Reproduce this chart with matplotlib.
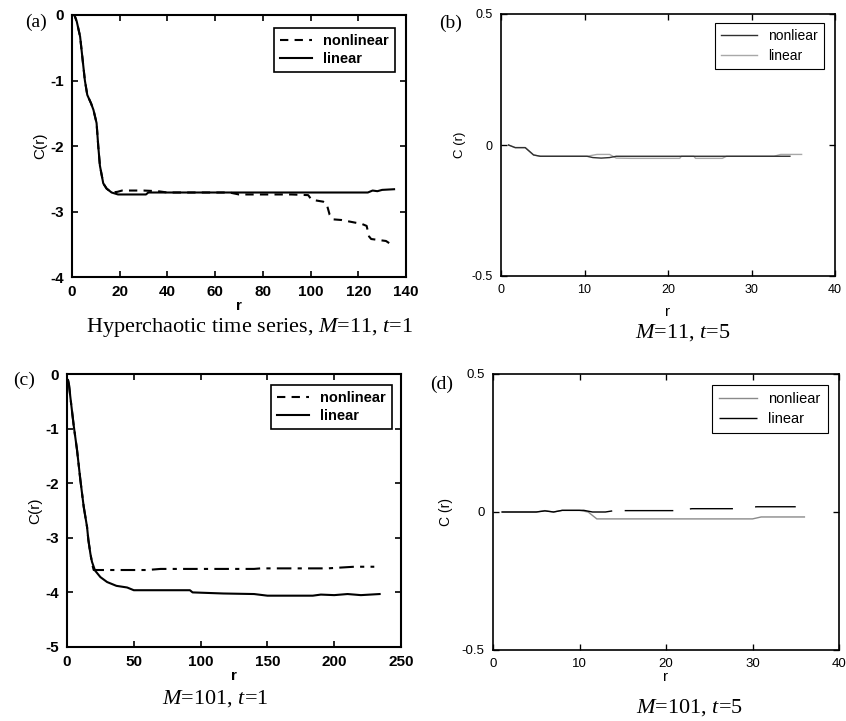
import matplotlib
matplotlib.use("Agg")
import matplotlib.pyplot as plt
from matplotlib import font_manager

# data
# (a) hyperchaotic, M=11, t=1
r_a_lin = [0, 1, 2, 3.4, 5.4, 6.4, 8, 9, 10.3, 11, 11.7, 13.1, 14.5, 16.6, 19.3, 31, 32, 124, 126, 128, 130, 135]
c_a_lin = [0, 0, -0.1, -0.33, -1.0, -1.22, -1.35, -1.45, -1.65, -2.0, -2.3, -2.57, -2.65, -2.71, -2.74, -2.74, -2.71, -2.71, -2.68, -2.69, -2.67, -2.66]
r_a_non = [0, 1, 2, 3.4, 5.4, 6.4, 8, 9, 10.3, 11, 11.7, 13.1, 14.5, 16.6, 19, 21, 30, 36, 40, 66, 70, 92, 99,
           100.4, 105.3, 106.7, 108, 109.5, 113, 121.5, 123.5, 124.5, 125.4, 131.6, 134.5, 135]
c_a_non = [0, 0, -0.1, -0.33, -1.0, -1.22, -1.35, -1.45, -1.65, -2.0, -2.3, -2.57, -2.65, -2.71, -2.7, -2.68, -2.68, -2.69, -2.71, -2.71, -2.74, -2.74, -2.75,
           -2.82, -2.85, -2.88, -3.05, -3.12, -3.13, -3.19, -3.22, -3.38, -3.42, -3.45, -3.52, -3.53]

# (b) M=11, t=5
r_b_non = [0.9, 1.7, 2.9, 3.9, 4.7, 10.3, 11, 12, 13, 13.8, 34.6]
c_b_non = [0, -0.01, -0.01, -0.038, -0.043, -0.043, -0.048, -0.05, -0.048, -0.043, -0.043]
r_b_lin = [0.9, 1.7, 2.9, 3.9, 4.7, 10.3, 11.5, 13, 13.8, 15.6, 21.4, 21.6, 23.1, 23.3, 26.5, 27, 32.7, 33.5, 36]
c_b_lin = [0, -0.01, -0.01, -0.038, -0.043, -0.043, -0.036, -0.036, -0.05, -0.051, -0.051, -0.043, -0.043, -0.051, -0.051, -0.043, -0.043, -0.036, -0.036]

# (c) M=101, t=1
r_c_lin = [0.75, 1.5, 2.5, 5, 7.5, 10, 12.5, 15, 16, 17.5, 18.7, 21, 25, 30, 37, 45, 50, 92, 94, 117, 140, 150, 184, 190, 200, 210, 220, 234]
c_c_lin = [-0.11, -0.2, -0.42, -0.94, -1.39, -1.94, -2.43, -2.8, -3.04, -3.29, -3.44, -3.6, -3.72, -3.81, -3.88, -3.91, -3.96, -3.96, -4.0, -4.02, -4.03, -4.06, -4.06, -4.04, -4.05, -4.03, -4.05, -4.03]
r_c_non = [0.75, 1.5, 2.5, 5, 7.5, 10, 12.5, 15, 16, 17.5, 19, 20, 60, 70, 140, 145, 195, 215, 230]
c_c_non = [-0.11, -0.2, -0.42, -0.94, -1.39, -1.94, -2.43, -2.8, -3.04, -3.29, -3.5, -3.59, -3.59, -3.57, -3.57, -3.56, -3.56, -3.53, -3.53]

# (d) M=101, t=5
r_d_non = [1, 5, 6, 7, 8, 10, 11, 12, 30, 31, 36]
c_d_non = [0, 0, 0.005, 0, 0.006, 0.006, 0.0, -0.025, -0.025, -0.018, -0.018]
r_d_lin = [1, 5, 6, 7, 8, 10.5, 11.5, 13, 14, 15.5, 21, 23, 28, 30.5, 35]
c_d_lin = [0, 0, 0.004, 0, 0.006, 0.006, 0.0, 0.0, 0.005, 0.005, 0.005, 0.012, 0.012, 0.019, 0.019]

names = {f.name for f in font_manager.fontManager.ttflist}
narrow = ["Liberation Sans Narrow", "Liberation Sans"] if "Liberation Sans Narrow" in names else ["Liberation Sans"]

plt.rcParams['font.family'] = ['Liberation Sans', 'DejaVu Sans']
plt.rcParams['axes.unicode_minus'] = False
plt.rcParams['mathtext.fontset'] = 'custom'
plt.rcParams['mathtext.rm'] = 'Liberation Serif'
plt.rcParams['mathtext.it'] = 'Liberation Serif:italic'

W, H = 846, 721
fig = plt.figure(figsize=(W / 100, H / 100), dpi=100)


def box(l, t, r, b):
    return [l / W, 1 - b / H, (r - l) / W, (b - t) / H]


def ftext(x, y, s, **kw):
    fig.text(x / W, 1 - y / H, s, **kw)


def style(ax, fam, weight, size, lw):
    ax.tick_params(direction='in', top=True, right=True, length=4, width=lw * 0.8, labelsize=size, pad=6)
    for lab in ax.get_xticklabels() + ax.get_yticklabels():
        lab.set_family(fam)
        lab.set_weight(weight)
    for s in ax.spines.values():
        s.set_linewidth(lw)


# (a)
ax = fig.add_axes(box(72, 15, 406, 277))
ax.plot(r_a_non, c_a_non, color='black', lw=1.5, ls=(0, (4, 3)), label='nonlinear')
ax.plot(r_a_lin, c_a_lin, color='black', lw=1.5, label='linear')
ax.set_xlim(0, 140)
ax.set_ylim(-4, 0)
ax.set_xticks(range(0, 141, 20))
ax.set_yticks([-4, -3, -2, -1, 0])
style(ax, narrow, 'bold', 11, 1.5)
ax.set_ylabel('C(r)', family=narrow, fontsize=11, labelpad=2)
ax.set_xlabel('r', family=narrow, fontsize=11, weight='bold', labelpad=0)
leg = ax.legend(loc='upper right', prop={'family': narrow, 'weight': 'bold', 'size': 10.5},
                fancybox=False, edgecolor='black', framealpha=1, handlelength=2.2,
                borderpad=0.4, labelspacing=0.3, borderaxespad=0, bbox_to_anchor=(0.967, 0.95))
leg.get_frame().set_linewidth(1.2)

# (b)
ax = fig.add_axes(box(501, 14, 835, 276))
ax.plot(r_b_lin, c_b_lin, color='#a8a8a8', lw=1.0, label='linear')
ax.plot(r_b_non, c_b_non, color='#303030', lw=1.0, label='nonliear')
ax.set_xlim(0, 40)
ax.set_ylim(-0.5, 0.5)
ax.set_xticks([0, 10, 20, 30, 40])
ax.set_yticks([-0.5, 0, 0.5])
ax.set_yticklabels(['-0.5', '0', '0.5'])
style(ax, ['Liberation Sans'], 'normal', 9, 1.2)
ax.set_ylabel('C (r)', fontsize=9.5, labelpad=4)
ax.set_xlabel('r', fontsize=11, labelpad=6)
h, l = ax.get_legend_handles_labels()
leg = ax.legend(h[::-1], l[::-1], loc='upper right', prop={'size': 10},
                fancybox=False, edgecolor='black', framealpha=1, handlelength=2.6,
                borderpad=0.45, labelspacing=0.4, borderaxespad=0, bbox_to_anchor=(0.967, 0.966))
leg.get_frame().set_linewidth(0.8)

# (c)
ax = fig.add_axes(box(67, 374, 401, 647))
ax.plot(r_c_non, c_c_non, color='black', lw=1.5, ls=(0, (7, 3, 2, 3)), label='nonlinear')
ax.plot(r_c_lin, c_c_lin, color='black', lw=1.5, label='linear')
ax.set_xlim(0, 250)
ax.set_ylim(-5, 0)
ax.set_xticks(range(0, 251, 50))
ax.set_yticks([-5, -4, -3, -2, -1, 0])
style(ax, narrow, 'bold', 11, 1.5)
ax.set_ylabel('C(r)', family=narrow, fontsize=11, labelpad=2)
ax.set_xlabel('r', family=narrow, fontsize=11, weight='bold', labelpad=0)
leg = ax.legend(loc='upper right', prop={'family': narrow, 'weight': 'bold', 'size': 10.5},
                fancybox=False, edgecolor='black', framealpha=1, handlelength=2.2,
                borderpad=0.4, labelspacing=0.3, borderaxespad=0, bbox_to_anchor=(0.973, 0.96))
leg.get_frame().set_linewidth(1.2)
# legend line for nonlinear shown as plain dashes
leg.get_lines()[0].set_linestyle((0, (4, 3)))

# (d)
ax = fig.add_axes(box(493, 374, 839, 650))
ax.plot(r_d_non, c_d_non, color='#8a8a8a', lw=1.0, label='nonliear')
ax.plot(r_d_lin, c_d_lin, color='black', lw=1.0, ls=(0, (80, 9, 35, 12, 31, 16, 100)), label='linear')
ax.set_xlim(0, 40)
ax.set_ylim(-0.5, 0.5)
ax.set_xticks([0, 10, 20, 30, 40])
ax.set_yticks([-0.5, 0, 0.5])
ax.set_yticklabels(['-0.5', '0', '0.5'])
style(ax, ['Liberation Sans'], 'normal', 9.5, 1.2)
ax.set_ylabel('C (r)', fontsize=10, labelpad=6)
ax.set_xlabel('r', fontsize=11, labelpad=0)
leg = ax.legend(loc='upper right', prop={'size': 10.5},
                fancybox=False, edgecolor='black', framealpha=1, handlelength=2.6,
                borderpad=0.5, labelspacing=0.4, borderaxespad=0, bbox_to_anchor=(0.968, 0.96))
leg.get_frame().set_linewidth(0.8)

# panel letters and captions
serif = 'Liberation Serif'
ftext(36, 22, '(a)', family=serif, fontsize=14, ha='center', va='center')
ftext(451, 23, '(b)', family=serif, fontsize=14, ha='center', va='center')
ftext(24, 380, '(c)', family=serif, fontsize=14, ha='center', va='center')
ftext(442, 384, '(d)', family=serif, fontsize=14, ha='center', va='center')

ftext(250, 332, r'Hyperchaotic time series, $M$=11, $t$=1', family=serif, fontsize=16, ha='center', va='baseline')
ftext(683, 338, r'$M$=11, $t$=5', family=serif, fontsize=16, ha='center', va='baseline')
ftext(215, 704, r'$M$=101, $t$=1', family=serif, fontsize=16, ha='center', va='baseline')
ftext(689, 713, r'$M$=101, $t$=5', family=serif, fontsize=16, ha='center', va='baseline')

fig.savefig('out.png', dpi=100)
